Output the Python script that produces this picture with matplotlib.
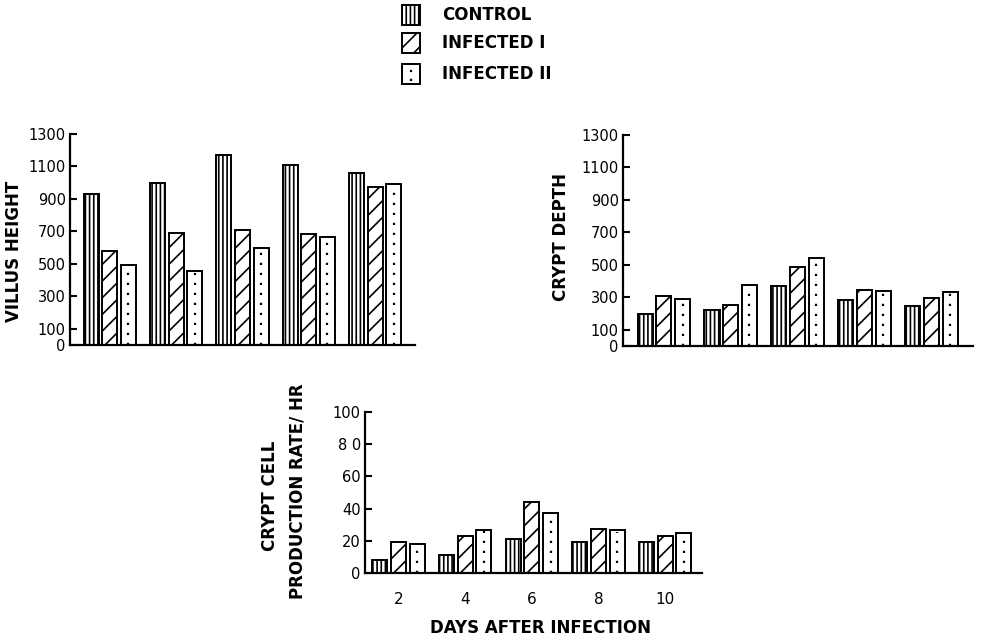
import numpy as np
import matplotlib.pyplot as plt
from matplotlib.patches import Rectangle
from matplotlib.lines import Line2D

plt.rcParams['font.family'] = ['DejaVu Sans']
plt.rcParams['hatch.linewidth'] = 1.2

# Данные
days = ['2', '4', '6', '8', '10']
series = ['CONTROL', 'INFECTED I', 'INFECTED II']
series_hatch = ['||||', '//', None]

villus_control = [930, 1000, 1170, 1110, 1060]
villus_inf1 = [580, 690, 710, 685, 975]
villus_inf2 = [495, 455, 595, 665, 990]

crypt_control = [200, 220, 370, 285, 245]
crypt_inf1 = [310, 250, 485, 345, 295]
crypt_inf2 = [290, 375, 540, 340, 335]

rate_control = [8, 11, 21, 19.5, 19]
rate_inf1 = [19, 23, 44, 27.5, 23]
rate_inf2 = [18, 27, 37, 26.5, 25]

villus_ticks = [0, 100, 300, 500, 700, 900, 1100, 1300]
crypt_ticks = [0, 100, 300, 500, 700, 900, 1100, 1300]
rate_ticks = [0, 20, 40, 60, 80, 100]
rate_tick_labels = ['0', '20', '40', '60', '8 0', '100']

LW = 1.4
W = 0.225      # ширина столбца
STEP = 0.28    # шаг между столбцами в группе


def draw_bars(ax, c, i1, i2):
    x = np.arange(len(c))
    ax.bar(x - STEP, c, W, color='white', edgecolor='black',
           linewidth=LW, hatch=series_hatch[0])
    ax.bar(x, i1, W, color='white', edgecolor='black',
           linewidth=LW, hatch=series_hatch[1])
    ax.bar(x + STEP, i2, W, color='white', edgecolor='black', linewidth=LW)
    # точки по центру третьего столбца
    ax.vlines(x + STEP, 0, np.array(i2) * 0.97, colors='black',
              linestyles=(0, (1, 3.5)), linewidth=1.6)


def style_axis(ax, ticks, labels=None):
    for s in ['top', 'right']:
        ax.spines[s].set_visible(False)
    for s in ['left', 'bottom']:
        ax.spines[s].set_linewidth(1.6)
    ax.set_yticks(ticks)
    if labels is not None:
        ax.set_yticklabels(labels)
    ax.set_ylim(0, ticks[-1])
    ax.tick_params(axis='y', direction='in', length=5, width=1.5,
                   labelsize=10.5, pad=3)
    ax.set_xticks([])


label_kw = dict(fontsize=12, fontweight='bold')

fig = plt.figure(figsize=(9.84, 6.44), dpi=100)

# Высота ворсинок
ax1 = fig.add_axes([70 / 984, 1 - 345 / 644, 345 / 984, 211 / 644])
draw_bars(ax1, villus_control, villus_inf1, villus_inf2)
style_axis(ax1, villus_ticks)
ax1.set_xlim(-0.6, 4.6)
fig.text(14 / 984, 1 - 251 / 644, 'VILLUS HEIGHT', rotation=90,
         ha='center', va='center', **label_kw)

# Глубина крипт
ax2 = fig.add_axes([623 / 984, 1 - 346 / 644, 350 / 984, 211 / 644])
draw_bars(ax2, crypt_control, crypt_inf1, crypt_inf2)
style_axis(ax2, crypt_ticks)
ax2.set_xlim(-0.61, 4.62)
fig.text(561 / 984, 1 - 237 / 644, 'CRYPT DEPTH', rotation=90,
         ha='center', va='center', **label_kw)

# Скорость образования клеток
ax3 = fig.add_axes([365 / 984, 1 - 573 / 644, 337 / 984, 161 / 644])
draw_bars(ax3, rate_control, rate_inf1, rate_inf2)
style_axis(ax3, rate_ticks, rate_tick_labels)
ax3.set_xlim(-0.5, 4.55)
ax3.set_xticks(np.arange(len(days)))
ax3.set_xticklabels(days)
ax3.tick_params(axis='x', length=0, pad=14, labelsize=11)
fig.text(270 / 984, 1 - 496 / 644, 'CRYPT CELL', rotation=90,
         ha='center', va='center', **label_kw)
fig.text(297 / 984, 1 - 491 / 644, 'PRODUCTION RATE/ HR', rotation=90,
         ha='center', va='center', **label_kw)
fig.text(541 / 984, 1 - 628 / 644, 'DAYS AFTER INFECTION',
         ha='center', va='center', **label_kw)

# Легенда (рисуется вручную в пикселях фигуры)
legend_rows = [15, 43, 74]
for name, hatch, yc in zip(series, series_hatch, legend_rows):
    box = Rectangle((402 / 984, 1 - (yc + 10) / 644), 18 / 984, 20 / 644,
                    transform=fig.transFigure, facecolor='white',
                    edgecolor='black', linewidth=LW, hatch=hatch)
    fig.add_artist(box)
    if hatch is None:
        fig.add_artist(Line2D([411 / 984] * 2,
                              [1 - (yc + 7) / 644, 1 - (yc - 7) / 644],
                              transform=fig.transFigure, color='black',
                              linewidth=1.6, linestyle=(0, (1, 3))))
    fig.text(442 / 984, 1 - yc / 644, name, ha='left', va='center',
             **label_kw)

plt.savefig('out.png', dpi=100)
